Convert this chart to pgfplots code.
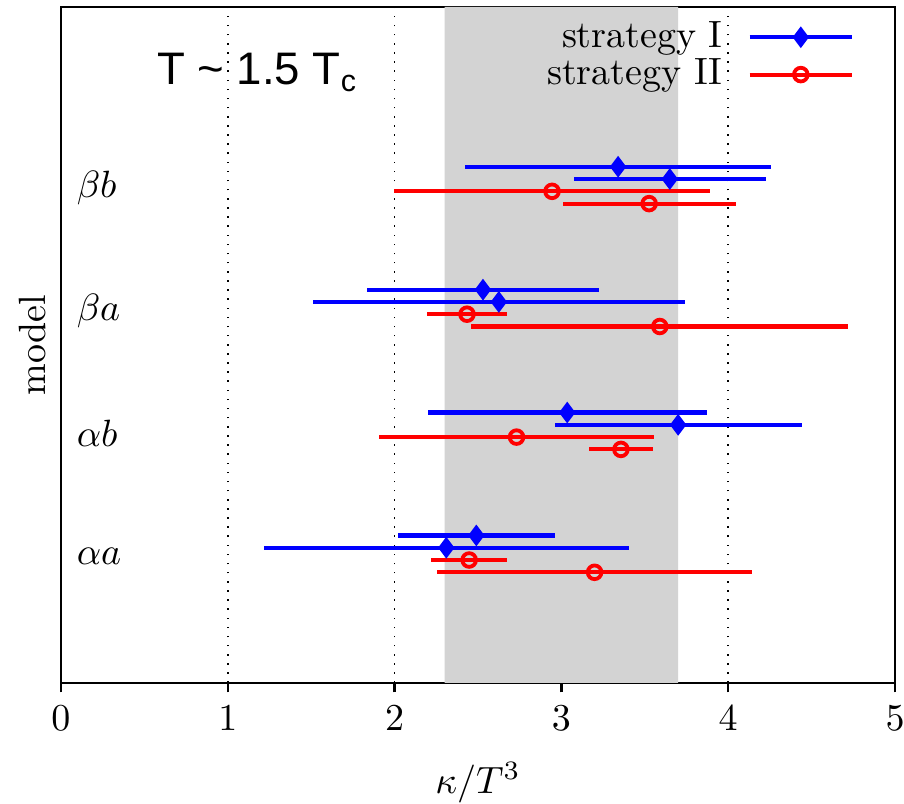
\documentclass[border=0pt]{standalone}
\usepackage{fontspec}
\usepackage{pgfplots}
\pgfplotsset{compat=1.18}
\usetikzlibrary{calc}
\newfontfamily\sans{Liberation Sans}
\definecolor{bandgray}{RGB}{211,211,211}
\begin{document}
\begin{tikzpicture}
\begin{axis}[
  scale only axis,
  width=219.5pt, height=177.9pt,
  xmin=0, xmax=5, ymin=0, ymax=5.5,
  xtick={0,1,2,3,4,5},
  ytick=\empty,
  xtick pos=bottom,
  tick align=outside,
  major tick length=2.5pt,
  xmajorgrids,
  major grid style={dotted, black, line width=0.4pt},
  axis line style={line width=0.6pt},
  tick style={line width=0.6pt, black},
  xlabel={$\kappa/T^3$},
  ylabel={model},
  xlabel style={yshift=-1.5pt},
  ylabel style={yshift=-2pt},
  legend style={at={(axis cs:4.76,5.435)}, anchor=north east, draw=none, fill=none,
    inner sep=0pt, row sep=-1.5pt, column sep=5pt, nodes={inner sep=1.5pt}},
  legend cell align=right,
  legend plot pos=right,
  legend image code/.code={\draw[mark repeat=2,mark phase=2,#1] plot coordinates {(0pt,0pt) (13.5pt,0pt) (27pt,0pt)};},
]
\addplot[fill=bandgray, draw=none, forget plot] coordinates {(2.3,0) (3.7,0) (3.7,5.5) (2.3,5.5)} \closedcycle;

\addlegendimage{blue, line width=1.1pt, mark=diamond*, mark size=2.2pt, mark options={solid, fill=blue, line width=0.8pt}}
\addlegendentry{strategy I}
\addlegendimage{red, line width=1.1pt, mark=o, mark size=1.8pt, mark options={solid, line width=1pt}}
\addlegendentry{strategy II}

\addplot[forget plot, only marks, blue, mark=diamond*, mark size=2.2pt, mark options={fill=blue, line width=0.8pt},
  error bars/.cd, x dir=both, x explicit, error mark=none, error bar style={line width=1.1pt, blue}]
  coordinates {
  (3.34,4.2) +- (0.917,0)
  (3.65,4.1) +- (0.575,0)
  (2.53,3.2) +- (0.697,0)
  (2.625,3.1) +- (1.117,0)
  (3.035,2.2) +- (0.837,0)
  (3.70,2.1) +- (0.74,0)
  (2.49,1.2) +- (0.47,0)
  (2.31,1.1) +- (1.094,0)
  };

\addplot[forget plot, only marks, red, mark=o, mark size=1.8pt, mark options={line width=1pt},
  error bars/.cd, x dir=both, x explicit, error mark=none, error bar style={line width=1.1pt, red}]
  coordinates {
  (2.944,4.0) +- (0.947,0)
  (3.526,3.9) +- (0.518,0)
  (2.434,3.0) +- (0.242,0)
  (3.590,2.9) +- (1.13,0)
  (2.731,2.0) +- (0.823,0)
  (3.357,1.9) +- (0.194,0)
  (2.447,1.0) +- (0.228,0)
  (3.199,0.9) +- (0.944,0)
  };

\node[anchor=west, inner sep=0pt] at (axis cs:0.09,4.03) {$\beta b$};
\node[anchor=west, inner sep=0pt] at (axis cs:0.09,3.03) {$\beta a$};
\node[anchor=west, inner sep=0pt] at (axis cs:0.09,2.03) {$\alpha b$};
\node[anchor=west, inner sep=0pt] at (axis cs:0.09,1.03) {$\alpha a$};
\node[anchor=west, inner sep=0pt, font=\sans\fontsize{12}{14}\selectfont] at (axis cs:0.572,4.97) {T \textasciitilde{} 1.5 T\textsubscript{c}};
\end{axis}
\pgfresetboundingbox
\path ($(current axis.south west)+(-16.05pt,-31.8pt)$) rectangle ($(current axis.north east)+(2.37pt,1.84pt)$);
\end{tikzpicture}
\end{document}
